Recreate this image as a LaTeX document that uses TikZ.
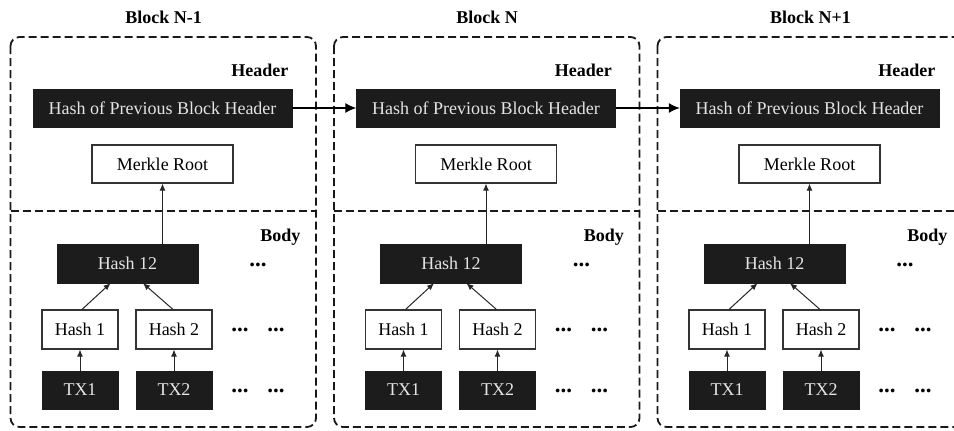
\documentclass[tikz,border=0pt]{standalone}
\usepackage{fontspec}
\setmainfont{Liberation Serif}
\usetikzlibrary{arrows.meta}

\definecolor{boxblack}{HTML}{1C1C1C}
\definecolor{boxtext}{HTML}{E4E4E4}

\begin{document}
\begin{tikzpicture}
[x=1pt, y=-1pt,
 dark/.style={fill=boxblack, draw=boxblack, text=boxtext, inner sep=0pt, font=\fontsize{18}{20}\selectfont},
 light/.style={fill=white, draw=black!80, line width=1.1pt, inner sep=0pt, font=\fontsize{18}{20}\selectfont},
 frame/.style={draw=black!90, line width=1.8pt, dash pattern=on 8pt off 4pt},
 tag/.style={font=\bfseries\fontsize{18}{20}\selectfont},
 more/.style={font=\bfseries\fontsize{23}{24}\selectfont, inner sep=0pt},
 up/.style={-{Latex[length=7pt,width=6pt]}, line width=1pt, black!85},
 link/.style={-{Latex[length=11pt,width=10pt]}, line width=1.3pt, black},
]

\useasboundingbox (0,0) rectangle (954,431);
\clip (0,0) rectangle (954,431);

%Block N-1
\draw[frame, rounded corners=9pt] (10.5,37) rectangle (316,427);
\draw[frame] (10.5,211) -- (316,211);
\node[tag] (titlea) at (163.5,17) {Block N-1};
\node[tag, anchor=east] (heada) at (292,70) {Header};
\node[tag, anchor=east] (bodya) at (304,237) {Body};

\node[dark, minimum width=259pt, minimum height=38pt] (preva) at (162.5,108) {Hash of Previous Block Header};
\node[light, minimum width=141pt, minimum height=38pt] (mra) at (162.5,164) {Merkle Root};
\node[dark, minimum width=141pt, minimum height=39pt] (h12a) at (127.5,263.5) {Hash 12};
\node[light, minimum width=76pt, minimum height=39pt] (h1a) at (80,329.5) {Hash 1};
\node[light, minimum width=76pt, minimum height=39pt] (h2a) at (174,329.5) {Hash 2};
\node[dark, minimum width=76pt, minimum height=38pt] (tx1a) at (80,390) {TX1};
\node[dark, minimum width=76pt, minimum height=38pt] (tx2a) at (174,390) {TX2};

\node[more] (da1) at (258,265) {...};
\node[more] (da2) at (240,330) {...};
\node[more] (da3) at (276,330) {...};
\node[more] (da4) at (240,391) {...};
\node[more] (da5) at (276,391) {...};

\draw[up] (h12a.north -| mra.south) -- (mra.south);
\draw[up] ([xshift=2pt]h1a.north) -- ([xshift=-17pt]h12a.south);
\draw[up] ([xshift=-1pt]h2a.north) -- ([xshift=15.5pt]h12a.south);
\draw[up] (tx1a.north) -- (h1a.south);
\draw[up] (tx2a.north) -- (h2a.south);

%Block N
\draw[frame, rounded corners=9pt] (10.5+323.5,37) rectangle (316+323.5,427);
\draw[frame] (10.5+323.5,211) -- (316+323.5,211);
\node[tag] (titleb) at (163.5+323.5,17) {Block N};
\node[tag, anchor=east] (headb) at (292+323.5,70) {Header};
\node[tag, anchor=east] (bodyb) at (304+323.5,237) {Body};

\node[dark, minimum width=259pt, minimum height=38pt] (prevb) at (162.5+323.5,108) {Hash of Previous Block Header};
\node[light, minimum width=141pt, minimum height=38pt] (mrb) at (162.5+323.5,164) {Merkle Root};
\node[dark, minimum width=141pt, minimum height=39pt] (h12b) at (127.5+323.5,263.5) {Hash 12};
\node[light, minimum width=76pt, minimum height=39pt] (h1b) at (80+323.5,329.5) {Hash 1};
\node[light, minimum width=76pt, minimum height=39pt] (h2b) at (174+323.5,329.5) {Hash 2};
\node[dark, minimum width=76pt, minimum height=38pt] (tx1b) at (80+323.5,390) {TX1};
\node[dark, minimum width=76pt, minimum height=38pt] (tx2b) at (174+323.5,390) {TX2};

\node[more] (db1) at (258+323.5,265) {...};
\node[more] (db2) at (240+323.5,330) {...};
\node[more] (db3) at (276+323.5,330) {...};
\node[more] (db4) at (240+323.5,391) {...};
\node[more] (db5) at (276+323.5,391) {...};

\draw[up] (h12b.north -| mrb.south) -- (mrb.south);
\draw[up] ([xshift=2pt]h1b.north) -- ([xshift=-17pt]h12b.south);
\draw[up] ([xshift=-1pt]h2b.north) -- ([xshift=15.5pt]h12b.south);
\draw[up] (tx1b.north) -- (h1b.south);
\draw[up] (tx2b.north) -- (h2b.south);

%Block N+1
\draw[frame, rounded corners=9pt] (10.5+647,37) rectangle (316+647,427);
\draw[frame] (10.5+647,211) -- (316+647,211);
\node[tag] (titlec) at (163.5+647,17) {Block N+1};
\node[tag, anchor=east] (headc) at (292+647,70) {Header};
\node[tag, anchor=east] (bodyc) at (304+647,237) {Body};

\node[dark, minimum width=259pt, minimum height=38pt] (prevc) at (162.5+647,108) {Hash of Previous Block Header};
\node[light, minimum width=141pt, minimum height=38pt] (mrc) at (162.5+647,164) {Merkle Root};
\node[dark, minimum width=141pt, minimum height=39pt] (h12c) at (127.5+647,263.5) {Hash 12};
\node[light, minimum width=76pt, minimum height=39pt] (h1c) at (80+647,329.5) {Hash 1};
\node[light, minimum width=76pt, minimum height=39pt] (h2c) at (174+647,329.5) {Hash 2};
\node[dark, minimum width=76pt, minimum height=38pt] (tx1c) at (80+647,390) {TX1};
\node[dark, minimum width=76pt, minimum height=38pt] (tx2c) at (174+647,390) {TX2};

\node[more] (dc1) at (258+647,265) {...};
\node[more] (dc2) at (240+647,330) {...};
\node[more] (dc3) at (276+647,330) {...};
\node[more] (dc4) at (240+647,391) {...};
\node[more] (dc5) at (276+647,391) {...};

\draw[up] (h12c.north -| mrc.south) -- (mrc.south);
\draw[up] ([xshift=2pt]h1c.north) -- ([xshift=-17pt]h12c.south);
\draw[up] ([xshift=-1pt]h2c.north) -- ([xshift=15.5pt]h12c.south);
\draw[up] (tx1c.north) -- (h1c.south);
\draw[up] (tx2c.north) -- (h2c.south);

%chain of headers
\draw[link] (preva.east) -- (prevb.west);
\draw[link] (prevb.east) -- (prevc.west);

\end{tikzpicture}
\end{document}
